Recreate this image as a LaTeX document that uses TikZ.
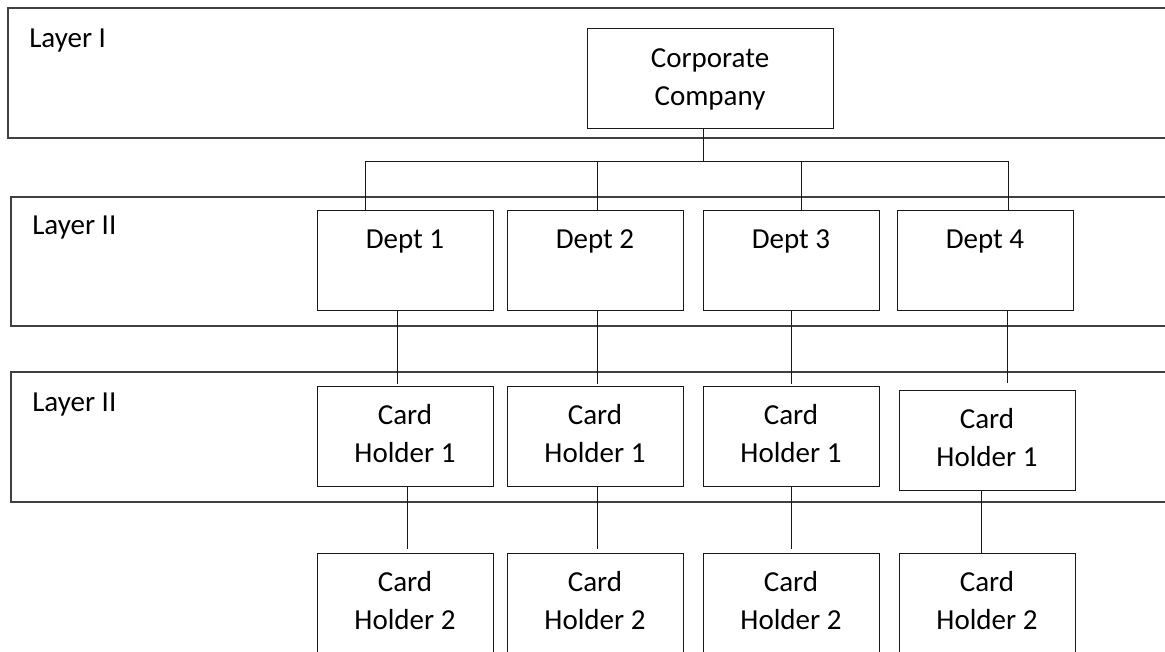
\documentclass[tikz,border=0pt]{standalone}
\usepackage{fontspec}
\setmainfont{Carlito}
\usetikzlibrary{calc}
\tikzset{
  layerbox/.style={draw=black!75, line width=1pt},
  box/.style={draw=black!90, line width=0.75pt, minimum width=132pt, minimum height=75pt, inner sep=0pt, outer sep=0pt},
  corpbox/.style={box, minimum width=184.5pt},
  txt/.style={inner sep=0pt, font=\fontsize{21.75}{29}\selectfont, text=black},
  conn/.style={draw=black!90, line width=0.75pt},
}
\begin{document}
\begin{tikzpicture}[x=0.75pt, y=-0.75pt]
\useasboundingbox (0,0) rectangle (1165,652);
\clip (0,0) rectangle (1165,652);
\fill[white] (0,0) rectangle (1165,652);
% layer frames
\draw[layerbox] (1180,8) -- (8,8) -- (8,138) -- (1180,138);
\draw[layerbox] (1180,197) -- (11,197) -- (11,326) -- (1180,326);
\draw[layerbox] (1180,372) -- (11,372) -- (11,502) -- (1180,502);
\node[txt, anchor=base west] (l1) at (29,48) {Layer I};
\node[txt, anchor=base west] (l2) at (32,235) {Layer II};
\node[txt, anchor=base west] (l3) at (32,412) {Layer II};
% corporate
\node[corpbox] (corp) at (710,79) {};
\node[txt, anchor=base] (corpt1) at ([yshift=-29.25pt]corp.north) {Corporate};
\node[txt, anchor=base] (corpt2) at ([yshift=-57.75pt]corp.north) {Company};
% departments
\foreach \i/\x in {1/405, 2/595, 3/791, 4/985} {
  \node[box] (d\i) at (\x,261) {};
  \node[txt, anchor=base] (dt\i) at ([yshift=-28.5pt]d\i.north) {Dept \i};
}
% card holder 1
\foreach \i/\x/\y in {1/405/436.5, 2/595/436.5, 3/791/436.5, 4/987/440.5} {
  \node[box] (a\i) at (\x,\y) {};
  \node[txt, anchor=base] (at\i) at ([yshift=-28.2pt]a\i.north) {Card};
  \node[txt, anchor=base] (au\i) at ([yshift=-57.2pt]a\i.north) {Holder 1};
}
% card holder 2
\foreach \i/\x in {1/405, 2/595, 3/791, 4/987} {
  \node[box] (b\i) at (\x,603) {};
  \node[txt, anchor=base] (bt\i) at ([yshift=-28.5pt]b\i.north) {Card};
  \node[txt, anchor=base] (bu\i) at ([yshift=-57.4pt]b\i.north) {Holder 2};
}
% bus
\coordinate (j0) at (703,162);
\coordinate (j1) at (365,162);
\coordinate (j2) at (597,162);
\coordinate (j3) at (801,162);
\coordinate (j4) at (1009,162);
\draw[conn] (j0 |- corp.south) -- (j0);
\draw[conn] (j1) -- (j4);
\draw[conn] (j1) -- (j1 |- d1.north);
\draw[conn] (j2) -- (j2 |- d2.north);
\draw[conn] (j3) -- (j3 |- d3.north);
\draw[conn] ([xshift=-0.75pt]j4) -- ([xshift=-0.75pt]j4 |- d4.north);
% dept -> card holder 1
\draw[conn] ([xshift=-6pt]d1.south) -- ++(0,73);
\draw[conn] ([xshift=1.5pt]d2.south) -- ++(0,73);
\draw[conn] (d3.south) -- ++(0,73);
\draw[conn] ([xshift=16.5pt]d4.south) -- ++(0,72);
% card holder 1 -> card holder 2
\draw[conn] ([xshift=1.5pt]a1.south) -- ++(0,62);
\draw[conn] ([xshift=1.5pt]a2.south) -- ++(0,62);
\draw[conn] (a3.south) -- ++(0,62);
\draw[conn] ([xshift=-4.5pt]a4.south) -- ([xshift=-4.5pt]a4.south |- b4.north);
\end{tikzpicture}
\end{document}
